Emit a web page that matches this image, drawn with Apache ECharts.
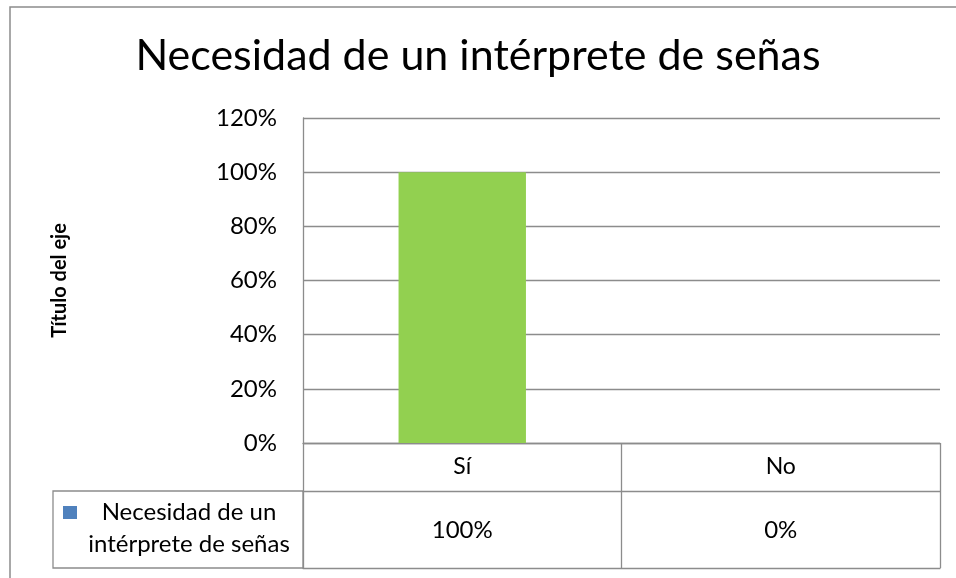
<!DOCTYPE html>
<html>
<head>
<meta charset="utf-8">
<script src="https://cdn.jsdelivr.net/npm/echarts@6/dist/echarts.min.js"></script>
<style>html,body{margin:0;padding:0;background:#fff}#c{width:956px;height:578px}</style>
</head>
<body>
<div id="c"></div>
<script>
const titleText = "Necesidad de un intérprete de señas";
const categories = ["Sí", "No"];
const seriesName = "Necesidad de un intérprete de señas";
const seriesNameLines = ["Necesidad de un", "intérprete de señas"];
const values = [1.0, 0.0];
const yTicks = [0, 0.2, 0.4, 0.6, 0.8, 1.0, 1.2];
const yAxisTitle = "Título del eje";

const FONT = "Lato, 'Open Sans', sans-serif";
const GRAY = "#8c8c8c";
const pct = v => Math.round(v * 100) + "%";

const chart = echarts.init(document.getElementById('c'), null, {renderer: 'canvas'});
chart.setOption({
  animation: false,
  backgroundColor: '#fff',
  textStyle: {fontFamily: FONT},
  title: {
    text: titleText, left: 'center', top: 30,
    textStyle: {fontFamily: FONT, fontSize: 43, fontWeight: 'normal', color: '#000'}
  },
  grid: {left: 303, right: 16, top: 118, bottom: 135, containLabel: false},
  yAxis: {
    type: 'value', min: yTicks[0], max: yTicks[yTicks.length - 1], interval: 0.2,
    name: yAxisTitle, nameLocation: 'middle', nameRotate: 90, nameGap: 233,
    nameTextStyle: {fontFamily: FONT, fontSize: 20, fontWeight: 'bold', color: '#000'},
    axisLine: {show: true, lineStyle: {color: GRAY, width: 1.3}},
    axisTick: {show: false},
    axisLabel: {formatter: v => pct(v), fontSize: 24, color: '#000', margin: 26, fontFamily: FONT},
    splitLine: {show: true, lineStyle: {color: GRAY, width: 1.3}}
  },
  xAxis: [
    {
      type: 'category', data: categories, position: 'bottom',
      axisLine: {show: true, lineStyle: {color: GRAY, width: 1.3}},
      axisTick: {show: true, length: 125, lineStyle: {color: GRAY, width: 1.3}},
      axisLabel: {fontSize: 23, color: '#000', margin: 12, fontFamily: FONT},
      splitLine: {show: false}
    },
    {
      type: 'category', data: categories, position: 'bottom', offset: 48,
      axisLine: {show: true, lineStyle: {color: GRAY, width: 1.3}},
      axisTick: {show: false},
      axisLabel: {formatter: (v, i) => pct(values[i]), fontSize: 24, color: '#000', margin: 27, fontFamily: FONT},
      splitLine: {show: false}
    },
    {
      type: 'category', data: categories, position: 'bottom', offset: 125,
      axisLine: {show: true, lineStyle: {color: GRAY, width: 1.3}},
      axisTick: {show: false}, axisLabel: {show: false}, splitLine: {show: false}
    }
  ],
  series: [{
    name: seriesName, type: 'bar', data: values, xAxisIndex: 0,
    barWidth: '40%', itemStyle: {color: '#92D050'}
  }],
  graphic: [
    {type: 'rect', shape: {x: 10, y: 7, width: 980, height: 620},
     style: {fill: null, stroke: GRAY, lineWidth: 1.5}, silent: true, z: -1},
    {type: 'rect', shape: {x: 53, y: 491, width: 250, height: 77},
     style: {fill: null, stroke: GRAY, lineWidth: 1.3}, silent: true},
    {type: 'rect', shape: {x: 63, y: 506, width: 14, height: 13},
     style: {fill: '#4F81BD'}, silent: true},
    {type: 'text', x: 189, y: 512,
     style: {text: seriesNameLines[0], font: "24px " + FONT, fill: '#000', textAlign: 'center', textVerticalAlign: 'middle'}},
    {type: 'text', x: 189, y: 544,
     style: {text: seriesNameLines[1], font: "24px " + FONT, fill: '#000', textAlign: 'center', textVerticalAlign: 'middle'}}
  ]
});
</script>
</body>
</html>
